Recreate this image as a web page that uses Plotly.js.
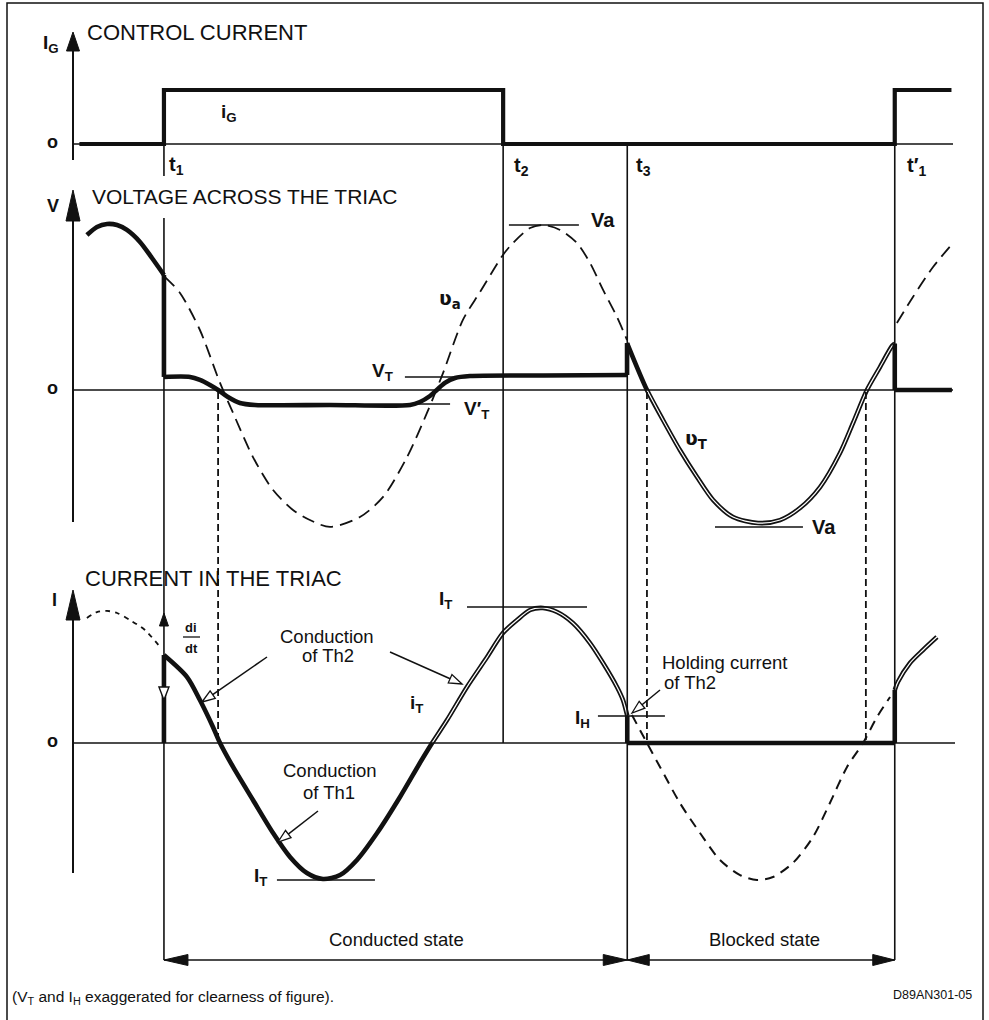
<!DOCTYPE html>
<html><head><meta charset="utf-8">
<script src="https://cdn.plot.ly/plotly-3.0.1.min.js"></script>
<style>html,body{margin:0;padding:0;background:#fff}</style>
</head><body><div id="chart" style="width:989px;height:1020px"></div>
<script>
// ---------------- data (time in ms, 50 Hz mains; values normalised) ----------------
const eventNames = ['t1', 't2', 't3', "t1'"];
const eventTimes = [4.25, 20.1, 25.9, 38.4];

// gate control current i_G
const igTime  = [0.3, 4.25, 4.25, 20.1, 20.1, 38.4, 38.4, 41.05];
const igValue = [0, 0, 1, 1, 0, 0, 1, 1];

// voltage across the triac v_T (solid)
const vtTime  = [0.65, 1.12, 1.59, 2.06, 2.52, 3.13, 3.69, 4.25,
                 4.25, 5.47, 5.93, 6.40, 6.78, 7.24, 7.80, 8.50, 12.0, 15.75, 16.21, 16.68, 17.00, 17.38, 17.85, 18.55, 22.0, 25.89,
                 25.89, 26.82, 27.57, 28.36, 29.16, 29.91, 30.84, 32.01, 33.04, 33.97, 34.91, 35.84, 36.45, 37.10, 37.71, 38.27, 38.40,
                 38.40, 41.07];
const vtValue = [1.033, 1.087, 1.107, 1.100, 1.067, 0.987, 0.880, 0.767,
                 0.087, 0.087, 0.067, 0.033, 0.000, -0.047, -0.087, -0.100, -0.100, -0.100, -0.080, -0.040, 0.000, 0.047, 0.080, 0.093, 0.097, 0.100,
                 0.313, 0.000, -0.200, -0.400, -0.580, -0.733, -0.847, -0.887, -0.867, -0.787, -0.647, -0.420, -0.220, 0.000, 0.153, 0.293, 0.310,
                 0.000, 0.000];

// supply voltage v_a (dashed, where it is not covered by v_T)
const vaTimeA  = [4.30, 5.00, 5.93, 6.87, 7.48, 8.41, 9.35, 10.28, 11.07, 12.01, 13.41, 14.49, 15.61, 16.54, 17.29, 18.22, 19.02,
                  20.09, 20.56, 21.36, 21.96, 22.76, 23.55, 24.16, 24.77, 25.42, 25.89];
const vaValueA = [0.753, 0.647, 0.400, 0.047, -0.153, -0.447, -0.667, -0.800, -0.867, -0.913, -0.847, -0.713, -0.447, -0.153, 0.113, 0.467, 0.653,
                  0.900, 0.980, 1.080, 1.100, 1.067, 0.980, 0.847, 0.667, 0.487, 0.333];
const vaTimeB  = [38.50, 39.25, 40.19, 41.12];
const vaValueB = [0.447, 0.620, 0.820, 0.980];

// current in the triac i_T (solid)
const itTime  = [4.25, 4.25, 5.33, 5.93, 6.54, 6.87, 7.48, 8.41, 9.35, 10.14, 10.93, 11.68, 12.48, 13.27, 14.21, 15.28, 16.21, 16.78,
                 17.48, 18.41, 19.35, 20.09, 20.75, 21.36, 21.96, 22.62, 23.36, 24.16, 24.77, 25.42, 25.70, 25.90,
                 25.90, 38.40, 38.40, 38.55, 39.11, 39.72, 40.37];
const itValue = [0, 0.647, 0.485, 0.316, 0.118, 0, -0.176, -0.419, -0.662, -0.838, -0.956, -1.0, -0.971, -0.860, -0.662, -0.397, -0.147, 0,
                 0.169, 0.412, 0.632, 0.809, 0.904, 0.978, 0.993, 0.963, 0.882, 0.735, 0.588, 0.412, 0.316, 0.200,
                 0, 0, 0.390, 0.450, 0.588, 0.684, 0.779];

// prospective current (dotted before t1, dashed after t3)
const ipPreTime   = [0.65, 1.12, 1.59, 2.06, 2.66, 3.36, 4.07];
const ipPreValue  = [0.919, 0.963, 0.971, 0.956, 0.904, 0.831, 0.706];
const ipPostTime  = [26.12, 26.82, 27.43, 28.36, 29.30, 30.23, 31.17, 31.96, 32.71, 33.64, 34.58, 35.37, 36.17, 36.92, 37.57, 38.18];
const ipPostValue = [0.206, 0, -0.176, -0.441, -0.662, -0.860, -0.971, -1.007, -0.985, -0.882, -0.691, -0.441, -0.176, 0, 0.191, 0.338];

// zero crossings of the supply voltage (dotted projection lines)
const zeroCrossTimes = [6.78, 26.82, 37.05];

// characteristic levels
const VA_PEAK = 1.10, VA_MIN = -0.913, VT_ON = 0.087, VT_REV = -0.093;
const IT_PEAK = 1.0, IT_MIN = -1.007, IH_LEVEL = 0.199;

// ---------------- layout helpers ----------------
const W = 989, H = 1020, X0 = 73, PXMS = 21.4;
const INK = '#111';
const FONT = 'Liberation Sans, Arial, Helvetica, sans-serif';
const X = t => X0 + PXMS * t;              // time -> pixel
const px = v => v / W, py = v => 1 - v / H; // pixel -> paper

function yAx(zero, unit, top, bot) {
  return {domain: [1 - bot / H, 1 - top / H], range: [(zero - bot) / unit, (zero - top) / unit],
          visible: false, fixedrange: true, anchor: 'x'};
}

function pieces(t, v) {
  const out = []; let cur = {t: [t[0]], v: [v[0]]};
  for (let i = 1; i < t.length; i++) {
    if (t[i] === t[i - 1]) {
      out.push(cur);
      out.push({t: [t[i - 1], t[i]], v: [v[i - 1], v[i]], step: true});
      cur = {t: [t[i]], v: [v[i]]};
    } else { cur.t.push(t[i]); cur.v.push(v[i]); }
  }
  out.push(cur);
  return out.filter(p => p.t.length >= 2);
}

const traces = [];
function addLine(t, v, yaxis, width, dash, color, smooth) {
  traces.push({x: t, y: v, yaxis: yaxis, type: 'scatter', mode: 'lines', hoverinfo: 'skip',
    line: {color: color || INK, width: width, dash: dash || 'solid', shape: smooth && t.length > 2 ? 'spline' : 'linear', smoothing: 0.8}});
}
function addThick(t, v, yaxis, hollow) {
  pieces(t, v).forEach(p => {
    addLine(p.t, p.v, yaxis, 4.6, 'solid', INK, !p.step);
    if (!p.step && p.t.length > 2 && hollow(p)) {
      const tt = [], vv = [];
      p.t.forEach((x, i) => { if (hollow(p, x)) { tt.push(x); vv.push(p.v[i]); } });
      if (tt.length > 1) addLine(tt, vv, yaxis, 1.2, 'solid', '#fff', true);
    }
  });
}

// gate current
addLine(igTime, igValue, 'y', 4.2, 'solid', INK, false);
// supply voltage (dashed)
addLine(vaTimeA, vaValueA, 'y2', 1.8, '13px,7px', INK, true);
addLine(vaTimeB, vaValueB, 'y2', 1.8, '13px,7px', INK, true);
// triac voltage
addThick(vtTime, vtValue, 'y2', (p, x) => p.t[0] > 25 && p.t[0] < 38 && (x === undefined || x > 25.95));
// prospective current
addLine(ipPreTime, ipPreValue, 'y3', 1.8, '5px,5px', INK, true);
addLine(ipPostTime, ipPostValue, 'y3', 2, '10px,7px', INK, true);
// triac current
addThick(itTime, itValue, 'y3', (p, x) => (p.t[0] > 38) || (p.t[0] < 5 && (x === undefined || x >= 16.7)));

// ---------------- shapes ----------------
const shapes = [];
function L(x1, y1, x2, y2, w, dash) {
  shapes.push({type: 'line', xref: 'paper', yref: 'paper', x0: px(x1), y0: py(y1), x1: px(x2), y1: py(y2),
               line: {color: INK, width: w || 1.5, dash: dash || 'solid'}});
}
function tri(tx, ty, dx, dy, len, half, fill, lw) {
  const n = Math.hypot(dx, dy); dx /= n; dy /= n;
  const bx = tx - dx * len, by = ty - dy * len, nx = -dy, ny = dx;
  const p = [[tx, ty], [bx + nx * half, by + ny * half], [bx - nx * half, by - ny * half]];
  shapes.push({type: 'path', xref: 'paper', yref: 'paper',
    path: 'M' + p.map(q => px(q[0]) + ',' + py(q[1])).join(' L') + ' Z',
    fillcolor: fill || INK, line: {color: INK, width: lw || 1}});
}
function openArrow(x1, y1, x2, y2) {   // tail -> tip with a hollow head
  const dx = x2 - x1, dy = y2 - y1, n = Math.hypot(dx, dy), len = 13;
  L(x1, y1, x2 - dx / n * len, y2 - dy / n * len, 1.5);
  tri(x2, y2, dx, dy, len, 4.5, '#fff', 1.3);
}

// frame
shapes.push({type: 'rect', xref: 'paper', yref: 'paper', x0: px(7), x1: px(983), y0: py(1024), y1: py(3),
             line: {color: INK, width: 1.5}});
// axes with arrows
L(X0, 160, X0, 45, 2); tri(X0, 32, 0, -1, 19, 6.5);
L(X0, 522, X0, 215, 2); tri(X0, 190, 0, -1, 31, 7);
L(X0, 873, X0, 612, 2); tri(X0, 590, 0, -1, 30, 7);
// zero lines
L(X0, 144, 953, 144, 1.5);
L(X0, 390, 953, 390, 1.5);
L(X0, 743, 955, 743, 1.5);
// instant lines
function vline(t, y1, y2) {
  shapes.push({type: 'line', xref: 'x', yref: 'paper', x0: t, x1: t, y0: py(y1), y1: py(y2), line: {color: INK, width: 1.6}});
}
vline(eventTimes[0], 144, 176); vline(eventTimes[0], 218, 960);
vline(eventTimes[1], 144, 743);
vline(eventTimes[2], 144, 960);
vline(eventTimes[3], 144, 960);
// dotted projections of the zero crossings
zeroCrossTimes.forEach(t => shapes.push({type: 'line', xref: 'x', yref: 'paper', x0: t, x1: t, y0: py(392), y1: py(743),
  line: {color: INK, width: 1.8, dash: '7px,4px'}}));
// level markers
function hl(t0, t1, y, ax) {
  shapes.push({type: 'line', xref: 'x', yref: ax, x0: t0, x1: t1, y0: y, y1: y, line: {color: INK, width: 1.4}});
}
hl(20.37, 23.64, VA_PEAK, 'y2');
hl(30.0, 34.11, VA_MIN, 'y2');
hl(15.51, 18.97, VT_ON, 'y2');
hl(15.75, 17.62, VT_REV, 'y2');
hl(18.41, 24.02, IT_PEAK, 'y3');
hl(9.53, 14.11, IT_MIN, 'y3');
hl(24.53, 27.66, IH_LEVEL, 'y3');
// di/dt arrows on t1
tri(X(eventTimes[0]), 613, 0, -1, 13, 4.5);
tri(X(eventTimes[0]), 700, 0, 1, 13, 5, '#fff', 1.4);
L(183, 637, 200, 637, 1.3);
// annotation arrows
openArrow(267, 657, 202, 702);
openArrow(390, 652, 462, 684);
openArrow(318, 811, 278, 842);
openArrow(660, 690, 632, 713);
// state brackets
const yb = 960;
L(X(eventTimes[0]), yb, X(eventTimes[3]), yb, 1.6);
tri(X(eventTimes[0]), yb, -1, 0, 24, 5.5);
tri(X(eventTimes[2]), yb, 1, 0, 24, 5.5);
tri(X(eventTimes[2]), yb, -1, 0, 22, 5.5);
tri(X(eventTimes[3]), yb, 1, 0, 22, 5.5);

// ---------------- text ----------------
const ann = [];
function T(x, y, text, size, o) {
  ann.push(Object.assign({xref: 'paper', yref: 'paper', x: px(x), y: py(y), text: text, showarrow: false,
    font: {family: FONT, size: size, color: INK}, xanchor: 'center', yanchor: 'middle'}, o || {}));
}
const BF = {family: 'Liberation Sans Narrow, Liberation Sans, Arial, sans-serif', color: INK};
function B(x, y, text, size, o) { T(x, y, '<b>' + text + '</b>', size, Object.assign({font: Object.assign({size: size}, BF)}, o || {})); }

T(85, 32, 'CONTROL CURRENT', 22, {xanchor: 'left'});
T(90, 197, 'VOLTAGE ACROSS THE TRIAC', 21, {xanchor: 'left'});
T(83, 578, 'CURRENT IN THE TRIAC', 22, {xanchor: 'left'});

B(51, 44, 'I<sub>G</sub>', 19);
B(53, 206, 'V', 18);
B(54, 600, 'I', 18);
B(52, 142, 'o', 18); B(52, 388, 'o', 18); B(52, 741, 'o', 18);

B(167, 166, 't<sub>1</sub>', 20, {xanchor: 'left'});
B(512, 167, 't<sub>2</sub>', 20, {xanchor: 'left'});
B(634, 167, 't<sub>3</sub>', 20, {xanchor: 'left'});
B(905, 167, 't′<sub>1</sub>', 20, {xanchor: 'left'});
B(219, 113, 'i<sub>G</sub>', 19, {xanchor: 'left'});

B(589, 220, 'Va', 20, {xanchor: 'left'});
B(810, 527, 'Va', 20, {xanchor: 'left'});
B(395, 372, 'V<sub>T</sub>', 19, {xanchor: 'right'});
B(462, 410, 'V′<sub>T</sub>', 19, {xanchor: 'left'});
T(437, 299, '<b>ʋ<sub>a</sub></b>', 19, {xanchor: 'left', font: {family: 'DejaVu Sans', size: 19, color: INK}});
T(683, 439, '<b>ʋ<sub>T</sub></b>', 19, {xanchor: 'left', font: {family: 'DejaVu Sans', size: 19, color: INK}});

B(437, 600, 'I<sub>T</sub>', 19, {xanchor: 'left'});
B(252, 877, 'I<sub>T</sub>', 19, {xanchor: 'left'});
B(573, 719, 'I<sub>H</sub>', 19, {xanchor: 'left'});
B(408, 704, 'i<sub>T</sub>', 19, {xanchor: 'left'});
B(191, 627, 'di', 13);
B(191, 648, 'dt', 13);

T(327, 636, 'Conduction', 18.5);
T(328, 655, 'of Th2', 18.5);
T(330, 770, 'Conduction', 18.5);
T(329, 792, 'of Th1', 18.5);
T(660, 662, 'Holding current', 18.5, {xanchor: 'left'});
T(662, 682, 'of Th2', 18.5, {xanchor: 'left'});

T((X(eventTimes[0]) + X(eventTimes[2])) / 2 + 1, 939, 'Conducted state', 18.5);
T((X(eventTimes[2]) + X(eventTimes[3])) / 2 + 3, 939, 'Blocked state', 18.5);

T(10, 997, '(V<sub>T</sub> and I<sub>H</sub> exaggerated for clearness of figure).', 15.5, {xanchor: 'left'});
T(974, 995, 'D89AN301-05', 12.5, {xanchor: 'right'});

// ---------------- plot ----------------
const layout = {
  width: W, height: H, margin: {l: 0, r: 0, t: 0, b: 0},
  paper_bgcolor: '#fff', plot_bgcolor: 'rgba(0,0,0,0)', showlegend: false,
  xaxis: {domain: [0, 1], range: [(0 - X0) / PXMS, (W - X0) / PXMS], visible: false, fixedrange: true, anchor: 'y'},
  yaxis:  yAx(144, 54, 20, 176),
  yaxis2: yAx(390, 150, 180, 548),
  yaxis3: yAx(743, 136, 580, 912),
  shapes: shapes, annotations: ann
};
Plotly.newPlot('chart', traces, layout, {staticPlot: true, displayModeBar: false});
</script>
</body></html>
